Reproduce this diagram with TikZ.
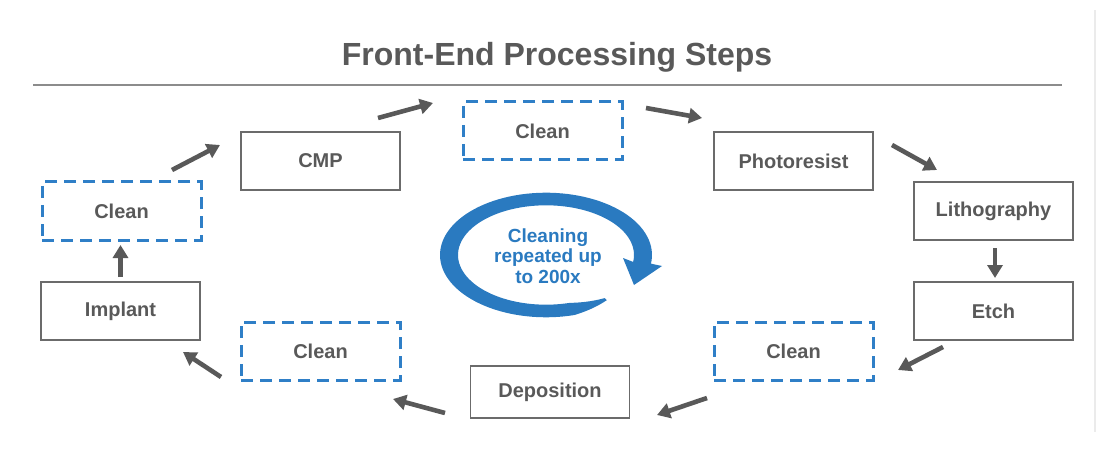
\documentclass[tikz,border=0pt]{standalone}
\usepackage{fontspec}
\setmainfont{Liberation Sans}
\usepackage{tikz}
\usetikzlibrary{arrows.meta,positioning}
\definecolor{txtgray}{HTML}{595959}
\definecolor{boxgray}{HTML}{6B6B6B}
\definecolor{rulegray}{HTML}{8C8C8C}
\definecolor{cycblue}{HTML}{2A7AC0}
\definecolor{dashblue}{HTML}{2F7FC7}

\begin{document}
\begin{tikzpicture}[x=1pt,y=-1pt,
    stepbox/.style={draw=boxgray, line width=1.8pt, minimum width=159pt, minimum height=58pt,
      text=txtgray, font=\fontsize{20}{24}\selectfont\bfseries},
    cleanbox/.style={stepbox, draw=dashblue, line width=3pt, dash pattern=on 12pt off 7pt},
    flow/.style={draw=txtgray, line width=4.6pt, -{Triangle[length=13pt,width=15pt]}},
    declare function={ringw(\t)=min(1,0.2+(\t-52)/28);}]
\useasboundingbox (0,0) rectangle (1113,457);

% title and rule
\node[text=txtgray, font=\fontsize{32}{38}\selectfont\bfseries] (title) at (557,57) {Front-End Processing Steps};
\draw[rulegray, line width=1.6pt] (33,85) -- (1062,85);
\draw[black!8, line width=1.5pt] (1095,10) -- (1095,432);

% process steps
\node[cleanbox] (clean1) at (121.5,211) {Clean};
\node[stepbox] (implant) at (120.5,311) {Implant};
\node[stepbox] (cmp) at (320.5,161) {CMP};
\node[cleanbox] (clean2) at (542.5,131) {Clean};
\node[stepbox] (resist) at (793.5,161) {Photoresist};
\node[stepbox] (litho) at (993.5,211) {Lithography};
\node[stepbox] (etch) at (993.5,311) {Etch};
\node[cleanbox] (clean3) at (793.5,351) {Clean};
\node[stepbox, minimum height=52pt] (depo) at (550,392) {Deposition};
\node[cleanbox] (clean4) at (320.5,351) {Clean};

% arrow ends
\coordinate (implant-out) at (120.5,277);
\coordinate (clean1-in) at (120.5,245);
\coordinate (clean1-out) at (172,170);
\coordinate (cmp-in) at (220,145);
\coordinate (cmp-out) at (378,118);
\coordinate (clean2-in) at (433,103);
\coordinate (clean2-out) at (646,108);
\coordinate (resist-in) at (702,118);
\coordinate (resist-out) at (892,145);
\coordinate (litho-in) at (937,170);
\coordinate (litho-out) at (995,248);
\coordinate (etch-in) at (995,278);
\coordinate (etch-out) at (943,347);
\coordinate (clean3-in) at (898,370);
\coordinate (clean3-out) at (707,398);
\coordinate (depo-in) at (657,415);
\coordinate (depo-out) at (445,413);
\coordinate (clean4-in) at (393,399);
\coordinate (clean4-out) at (221,377);
\coordinate (implant-in) at (183,352);

\draw[flow] (implant-out) -- (clean1-in);
\draw[flow] (clean1-out) -- (cmp-in);
\draw[flow] (cmp-out) -- (clean2-in);
\draw[flow] (clean2-out) -- (resist-in);
\draw[flow] (resist-out) -- (litho-in);
\draw[flow] (litho-out) -- (etch-in);
\draw[flow] (etch-out) -- (clean3-in);
\draw[flow] (clean3-out) -- (depo-in);
\draw[flow] (depo-out) -- (clean4-in);
\draw[flow] (clean4-out) -- (implant-in);

% cleaning cycle
\fill[cycblue] plot[domain=52:368, samples=100] ({546+(97+9*ringw(\x))*cos(\x)},{255+(56+6.3*ringw(\x))*sin(\x)})
  -- (662,266) -- (634,285) -- (623,258)
  -- plot[domain=368:52, samples=100] ({546+(97-9*ringw(\x))*cos(\x)},{255+(56-6.3*ringw(\x))*sin(\x)}) -- cycle;
\node[text=cycblue, align=center, font=\fontsize{19}{20.5}\selectfont\bfseries] (cyclabel) at (548,256) {Cleaning\\repeated up\\to 200x};
\end{tikzpicture}
\end{document}
